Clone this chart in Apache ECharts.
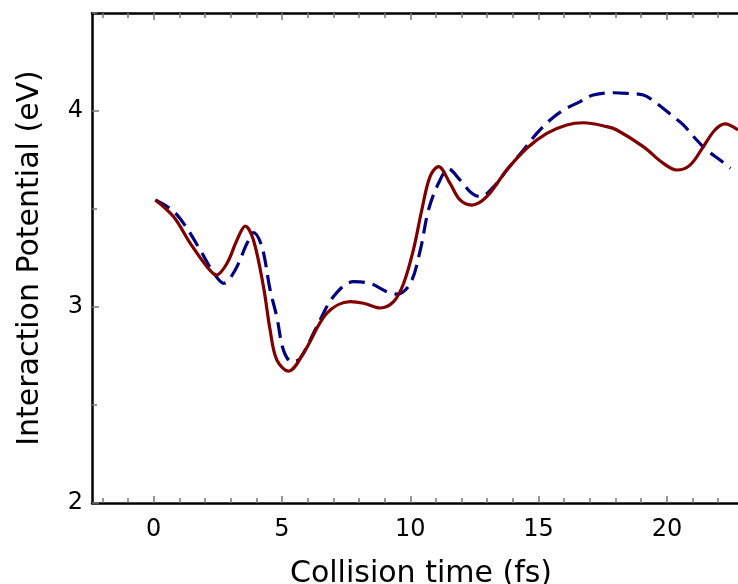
<!DOCTYPE html>
<html><head><meta charset="utf-8">
<script src="https://cdn.jsdelivr.net/npm/echarts@6/dist/echarts.min.js"></script>
<style>html,body{margin:0;padding:0;background:#fff}#c{width:738px;height:584px}</style>
</head><body><div id="c"></div>
<script>
const xMajorTicks = [0, 5, 10, 15, 20];
const xMinorTicks = [-2, -1, 1, 2, 3, 4, 6, 7, 8, 9, 11, 12, 13, 14, 16, 17, 18, 19, 21, 22];
const yMajorTicks = [2, 3, 4];
const yMinorTicks = [2.5, 3.5, 4.5];
const xTitle = 'Collision time (fs)';
const yTitle = 'Interaction Potential (eV)';

const redTime = [0.07,0.78,1.43,2.08,2.44,2.86,3.25,3.57,3.89,4.28,4.54,4.8,5.26,5.84,6.75,7.66,8.18,8.83,9.35,9.74,10.12,10.45,10.77,11.1,11.55,11.94,12.4,12.98,13.76,14.54,15.32,16.1,16.75,17.66,18.05,19.08,19.86,20.38,20.9,21.42,21.87,22.26,22.77];
const redValue = [3.546,3.46,3.325,3.206,3.163,3.223,3.342,3.413,3.342,3.104,2.883,2.73,2.673,2.764,2.968,3.027,3.019,2.995,3.027,3.12,3.29,3.495,3.665,3.716,3.631,3.546,3.52,3.563,3.699,3.81,3.886,3.929,3.94,3.92,3.903,3.818,3.733,3.699,3.724,3.818,3.903,3.934,3.903];

const blueTime = [0.07,0.72,1.17,1.82,2.27,2.73,3.18,3.64,3.89,4.22,4.54,4.8,5.06,5.39,5.71,6.36,7.01,7.79,8.44,9.09,9.48,10.0,10.39,10.71,11.1,11.49,11.94,12.4,12.72,13.37,13.76,14.41,14.93,15.45,15.97,16.62,17.13,17.91,18.43,19.08,19.6,20.25,20.64,21.16,21.55,22.07,22.48];
const blueValue = [3.546,3.495,3.427,3.29,3.189,3.121,3.189,3.325,3.38,3.308,3.087,2.95,2.78,2.72,2.738,2.9,3.053,3.129,3.12,3.078,3.066,3.12,3.29,3.495,3.631,3.704,3.648,3.58,3.563,3.631,3.699,3.801,3.886,3.954,4.005,4.048,4.082,4.093,4.09,4.082,4.039,3.971,3.929,3.852,3.801,3.75,3.708];

const FONT = 'DejaVu Sans';
const X_MIN = -2.4, X_MAX = 22.77, Y_MIN = 2, Y_MAX = 4.5;
const GRID = { left: 92, right: 0, top: 13, bottom: 81, containLabel: false, outerBoundsMode: 'none' };

function ax(kind, grid, pos, ticks, len, opts) {
  return Object.assign({
    type: 'value', gridIndex: grid, position: pos,
    min: kind === 'x' ? X_MIN : Y_MIN, max: kind === 'x' ? X_MAX : Y_MAX,
    axisLine: { show: false, onZero: false },
    axisTick: { show: true, inside: true, length: len, customValues: ticks, lineStyle: { color: '#777', width: 1.5 } },
    axisLabel: { show: false },
    splitLine: { show: false }
  }, opts || {});
}
const blackLine = { show: true, onZero: false, lineStyle: { color: '#000', width: 2.5 } };

const chart = echarts.init(document.getElementById('c'), null, { renderer: 'canvas' });
chart.setOption({
  animation: false,
  backgroundColor: '#fff',
  grid: [GRID, Object.assign({}, GRID)],
  xAxis: [
    ax('x', 0, 'bottom', xMajorTicks, 7, {
      axisLine: blackLine,
      axisLabel: { show: true, customValues: xMajorTicks, margin: 15, fontSize: 24, fontFamily: FONT, color: '#000' },
      name: xTitle, nameLocation: 'middle', nameGap: 56,
      nameTextStyle: { fontSize: 30, fontFamily: FONT, color: '#000', padding: [0, 0, 0, 12] }
    }),
    ax('x', 0, 'top', xMajorTicks, 7, { axisLine: blackLine }),
    ax('x', 1, 'bottom', xMinorTicks, 5),
    ax('x', 1, 'top', xMinorTicks, 5)
  ],
  yAxis: [
    ax('y', 0, 'left', yMajorTicks, 7, {
      axisLine: blackLine,
      axisLabel: { show: true, customValues: yMajorTicks, margin: 9, fontSize: 24, fontFamily: FONT, color: '#000', padding: [14, 0, 0, 0] },
      name: yTitle, nameLocation: 'middle', nameGap: 47,
      nameTextStyle: { fontSize: 30, fontFamily: FONT, color: '#000' }
    }),
    ax('y', 1, 'left', yMinorTicks, 5)
  ],
  series: [
    {
      type: 'line', xAxisIndex: 0, yAxisIndex: 0, showSymbol: false, smooth: 0.35,
      data: blueTime.map((t, i) => [t, blueValue[i]]),
      lineStyle: { color: '#000080', width: 3.2, type: [16, 8] }
    },
    {
      type: 'line', xAxisIndex: 0, yAxisIndex: 0, showSymbol: false, smooth: 0.35,
      data: redTime.map((t, i) => [t, redValue[i]]),
      lineStyle: { color: '#800000', width: 3.2 }
    }
  ]
});
</script></body></html>
